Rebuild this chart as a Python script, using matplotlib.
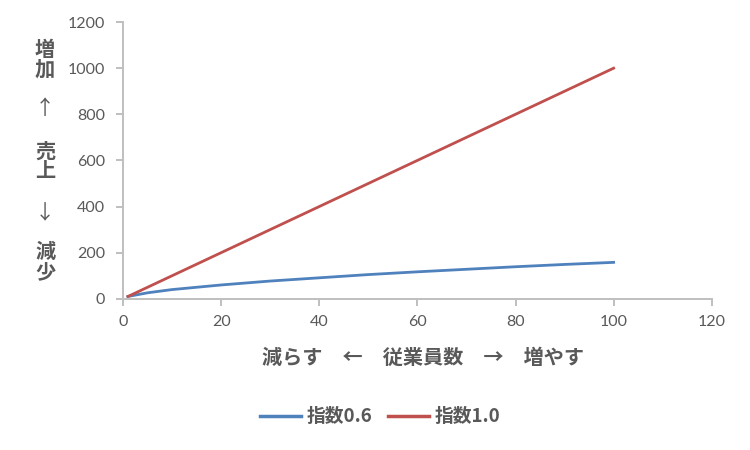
import matplotlib
matplotlib.use('Agg')
import matplotlib.pyplot as plt

plt.rcParams['font.family'] = ['Noto Sans CJK JP', 'DejaVu Sans']

# data
x = [1, 5, 10, 20, 30, 40, 50, 60, 70, 80, 90, 100]
idx_06 = [10, 26, 40, 60, 77, 91, 105, 117, 128, 139, 149, 158]
idx_10 = [10, 50, 100, 200, 300, 400, 500, 600, 700, 800, 900, 1000]
series_names = ['指数0.6', '指数1.0']
x_ticks = [0, 20, 40, 60, 80, 100, 120]
y_ticks = [0, 200, 400, 600, 800, 1000, 1200]

grey = '#595959'
axis_grey = '#BFBFBF'

fig = plt.figure(figsize=(7.5, 4.5), dpi=100)
ax = fig.add_axes([0.164, 0.336, 0.785, 0.615])

ax.plot(x, idx_06, color='#4F81BD', lw=2.0, label=series_names[0])
ax.plot(x, idx_10, color='#C0504D', lw=2.0, label=series_names[1])

ax.set_xlim(0, 120)
ax.set_ylim(0, 1200)
ax.set_xticks(x_ticks)
ax.set_yticks(y_ticks)
for s in ['top', 'right']:
    ax.spines[s].set_visible(False)
for s in ['left', 'bottom']:
    ax.spines[s].set_color(axis_grey)
    ax.spines[s].set_linewidth(1.4)
ax.tick_params(colors=axis_grey, labelcolor=grey, labelsize=11.5, length=5, width=1.4)
ax.tick_params(axis='x', pad=6.5)
ax.tick_params(axis='y', pad=8)
for lab in ax.get_xticklabels() + ax.get_yticklabels():
    lab.set_family('Lato')

# vertical y label, one character per row (arrows drawn thin)
ylab = [('増', 49), ('加', 69), ('↑', 108), ('売', 151), ('上', 171),
        ('↓', 214), ('減', 251), ('少', 272)]
for ch, py in ylab:
    w = 'normal' if ch in '↑↓' else 'bold'
    fig.text(45 / 750, 1 - py / 450, ch, ha='center', va='center',
             fontsize=14.5, fontweight=w, color=grey)

fig.text(423 / 750, 1 - 357 / 450, '減らす　←　従業員数　→　増やす',
         ha='center', va='center', fontsize=14.5, fontweight='bold', color=grey)

leg = fig.legend(loc='center', bbox_to_anchor=(380 / 750, 1 - 417 / 450), ncol=2,
                 frameon=False, handlelength=2.2, columnspacing=0.85, handletextpad=0.27,
                 prop={'size': 13.5, 'weight': 'bold'})
for t in leg.get_texts():
    t.set_color(grey)
for h in leg.get_lines():
    h.set_linewidth(2.5)

fig.savefig('out.png', dpi=100)
